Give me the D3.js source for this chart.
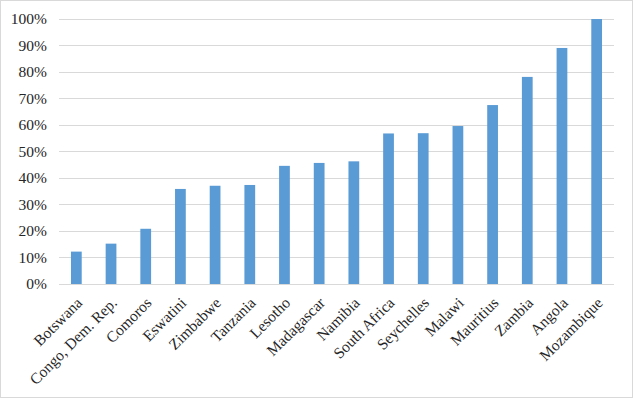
<!DOCTYPE html>
<html>
<head>
<meta charset="utf-8">
<script src="https://cdn.jsdelivr.net/npm/d3@7"></script>
<style>
  body { margin: 0; background: #fff; }
  svg text { font-family: "Liberation Serif", "DejaVu Serif", serif !important; }
</style>
</head>
<body>
<svg class="canvas" width="636" height="399"></svg>
<script>
const countries = ["Botswana", "Congo, Dem. Rep.", "Comoros", "Eswatini", "Zimbabwe", "Tanzania",
  "Lesotho", "Madagascar", "Namibia", "South Africa", "Seychelles", "Malawi", "Mauritius",
  "Zambia", "Angola", "Mozambique"];
const shares = [0.122, 0.152, 0.208, 0.358, 0.370, 0.373, 0.445, 0.456, 0.462, 0.567, 0.568,
  0.595, 0.674, 0.780, 0.889, 0.998];
const yTicks = [0, 0.1, 0.2, 0.3, 0.4, 0.5, 0.6, 0.7, 0.8, 0.9, 1.0];

function render() {
  const svg = d3.select(".canvas");
  const left = 59, right = 614, top = 18.5, bottom = 284;

  // chart frame
  svg.append("rect")
    .attr("x", 0.5).attr("y", 0.5)
    .attr("width", 632).attr("height", 397)
    .attr("fill", "#fff").attr("stroke", "#d9d9d9");

  const x = d3.scaleBand().domain(countries).range([left, right]).paddingInner(0.69).paddingOuter(0.345);
  const y = d3.scaleLinear().domain([0, 1]).range([bottom, top]);

  // gridlines
  svg.append("g")
    .selectAll("line")
    .data(yTicks)
    .enter()
    .append("line")
    .attr("x1", left).attr("x2", right)
    .attr("y1", d => Math.round(y(d)) + 0.5)
    .attr("y2", d => Math.round(y(d)) + 0.5)
    .attr("stroke", "#d9d9d9")
    .attr("stroke-width", 1);

  // y axis labels
  const yAxis = svg.append("g")
    .attr("transform", `translate(${left - 12},0)`)
    .call(d3.axisLeft(y).tickValues(yTicks).tickFormat(d3.format(".0%")).tickSize(0).tickPadding(0));
  yAxis.select(".domain").remove();
  yAxis.selectAll("text")
    .style("font-size", "15.5px")
    .attr("fill", "#262626");

  // bars
  svg.append("g")
    .selectAll("rect")
    .data(shares)
    .enter()
    .append("rect")
    .attr("x", (d, i) => x(countries[i]))
    .attr("y", d => y(d))
    .attr("width", x.bandwidth())
    .attr("height", d => bottom - y(d))
    .attr("fill", "#5b9bd5");

  // x axis labels
  const xAxis = svg.append("g")
    .attr("transform", `translate(0,${bottom})`)
    .call(d3.axisBottom(x).tickSize(0).tickPadding(0));
  xAxis.select(".domain").remove();
  xAxis.selectAll("text")
    .style("font-size", "15.5px")
    .attr("fill", "#262626")
    .attr("text-anchor", "end")
    .attr("dy", "0.35em")
    .attr("transform", "translate(3,16) rotate(-45)");
}

window.onload = render;
</script>
</body>
</html>
